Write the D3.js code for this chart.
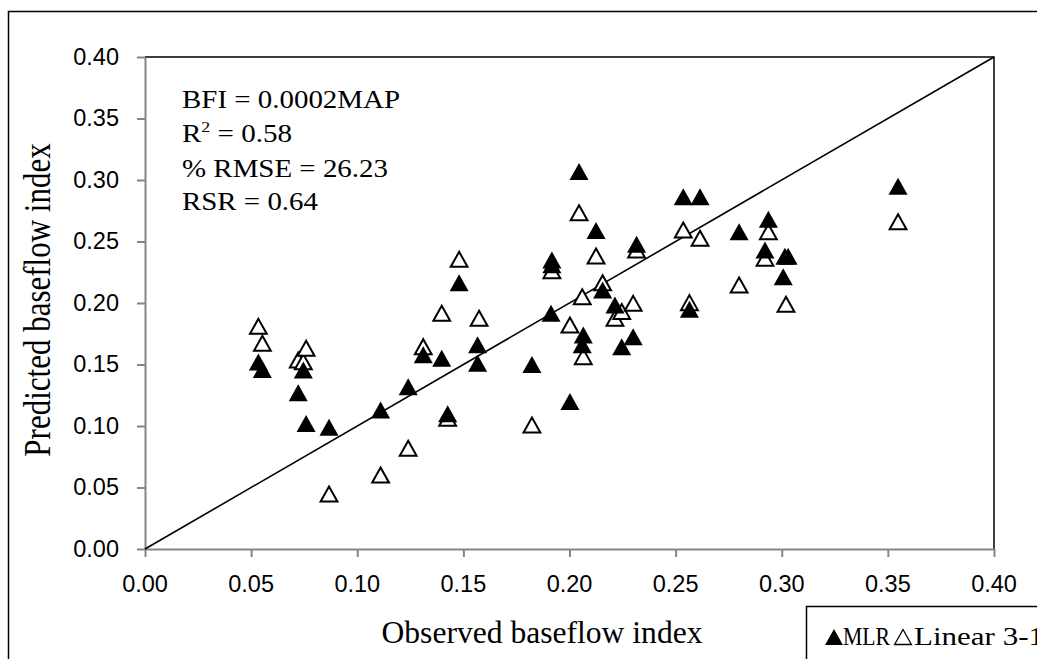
<!DOCTYPE html>
<html lang="en">
<head>
  <meta charset="UTF-8">
  <title>Observed vs predicted baseflow index</title>
  <style>
    body { margin: 0; background: #fff; }
    svg { display: block; }
  </style>
</head>
<body>
  <svg></svg>
  <script src="https://cdn.jsdelivr.net/npm/d3@7"></script>
  <script>
    // MLR series (filled triangles)
    var mlrObserved = [0.0534, 0.0553, 0.0722, 0.0746, 0.0759, 0.0867, 0.111, 0.124, 0.1311, 0.1398,
      0.1426, 0.148, 0.1567, 0.1567, 0.1823, 0.1913, 0.1917, 0.1917, 0.2002, 0.2045,
      0.2065, 0.206, 0.2125, 0.2156, 0.2214, 0.2246, 0.230, 0.2316, 0.2536, 0.2615,
      0.2565, 0.2799, 0.2921, 0.2937, 0.3007, 0.3015, 0.303, 0.3548]
    var mlrPredicted = [0.152, 0.146, 0.127, 0.1455, 0.102, 0.099, 0.113, 0.132, 0.158, 0.155,
      0.110, 0.2165, 0.166, 0.151, 0.150, 0.1916, 0.235, 0.231, 0.120, 0.307,
      0.174, 0.166, 0.259, 0.2106, 0.1984, 0.1645, 0.1726, 0.2477, 0.2864, 0.2864,
      0.195, 0.258, 0.243, 0.268, 0.2214, 0.238, 0.238, 0.295]

    // Linear 3-parameter series (open triangles)
    var linObserved = [0.0534, 0.0553, 0.0722, 0.0746, 0.0759, 0.0867, 0.111, 0.124, 0.1311, 0.1398,
      0.1426, 0.148, 0.1574, 0.1823, 0.1917, 0.2002, 0.2045, 0.206, 0.2065, 0.2125,
      0.2156, 0.2214, 0.2246, 0.230, 0.2316, 0.2536, 0.2615, 0.2565, 0.2799, 0.2921,
      0.2937, 0.302, 0.3548]
    var linPredicted = [0.181, 0.1672, 0.1537, 0.1523, 0.1632, 0.0447, 0.0602, 0.0819, 0.1645, 0.1916,
      0.1063, 0.2355, 0.1876, 0.1008, 0.2263, 0.1821, 0.2734, 0.2051, 0.1564, 0.2382,
      0.2165, 0.1876, 0.193, 0.1997, 0.243, 0.2593, 0.2526, 0.2003, 0.2146, 0.2363,
      0.258, 0.199, 0.266]

    var ticks = [0, 0.05, 0.10, 0.15, 0.20, 0.25, 0.30, 0.35, 0.40]
    var statLines = ["BFI = 0.0002MAP", "R", "% RMSE = 26.23", "RSR = 0.64"]
    var legendNames = ["MLR", "Linear 3-1"]

    var width = 1037
    var height = 659
    var plotL = 145, plotR = 994, plotT = 57, plotB = 549
    var gray = "#868686"

    var x = d3.scaleLinear().domain([0, 0.4]).range([plotL, plotR])
    var y = d3.scaleLinear().domain([0, 0.4]).range([plotB, plotT])

    var svg = d3.select("svg")
      .attr("width", width)
      .attr("height", height)

    // triangle marker, size = height squared
    var tri = {
      draw: function (ctx, size) {
        var h = Math.sqrt(size)
        ctx.moveTo(0, -h / 2)
        ctx.lineTo(h * 0.56, h / 2)
        ctx.lineTo(-h * 0.56, h / 2)
        ctx.closePath()
      }
    }

    // text helper; sx stretches horizontally (screen space), len forces a width
    function label(g, px, py, str, size, family, opts) {
      opts = opts || {}
      var tf = "translate(" + px + "," + py + ")"
      if (opts.sx) tf += " scale(" + opts.sx + ",1)"
      if (opts.rot) tf += " rotate(" + opts.rot + ")"
      var t = g.append("text")
        .attr("transform", tf)
        .attr("text-anchor", opts.anchor || "start")
        .attr("font-family", family)
        .attr("font-size", size)
        .attr("fill", "#000")
        .text(str)
      if (opts.len) t.attr("textLength", opts.len).attr("lengthAdjust", "spacingAndGlyphs")
      return t
    }

    // outer chart border
    svg.append("rect")
      .attr("x", 8.5).attr("y", 11.5)
      .attr("width", 1100).attr("height", 700)
      .attr("fill", "none").attr("stroke", "#000").attr("stroke-width", 1.5)

    // plot area top / right borders
    svg.append("path")
      .attr("d", "M" + plotL + "," + plotT + "H" + plotR + "V" + plotB)
      .attr("fill", "none").attr("stroke", "#000").attr("stroke-width", 1.5)

    // axes
    var xAxis = svg.append("g")
      .attr("transform", "translate(0," + plotB + ")")
      .call(d3.axisBottom(x).tickValues(ticks).tickSize(8).tickSizeOuter(0).tickFormat(""))
    var yAxis = svg.append("g")
      .attr("transform", "translate(" + plotL + ",0)")
      .call(d3.axisLeft(y).tickValues(ticks).tickSize(8).tickSizeOuter(0).tickFormat(""))
    svg.selectAll(".domain, .tick line")
      .attr("stroke", gray).attr("stroke-width", 2)

    var tickFont = "'Liberation Sans', Arial, sans-serif"
    ticks.forEach(function (t) {
      label(svg, x(t), 592, t.toFixed(2), 23.5, tickFont, { anchor: "middle" })
      label(svg, 119, y(t) + 7.5, t.toFixed(2), 23.5, tickFont, { anchor: "end" })
    })

    var serif = "'Liberation Serif', 'Times New Roman', serif"

    // 1:1 line
    svg.append("line")
      .attr("x1", x(0)).attr("y1", y(0))
      .attr("x2", x(0.4)).attr("y2", y(0.4))
      .attr("stroke", "#000").attr("stroke-width", 1.6)

    // open triangles first, filled ones on top
    var linPts = linObserved.map(function (v, i) { return [v, linPredicted[i]] })
    var mlrPts = mlrObserved.map(function (v, i) { return [v, mlrPredicted[i]] })

    svg.append("g").selectAll("path")
      .data(linPts)
      .join("path")
      .attr("d", d3.symbol().type(tri).size(15 * 15))
      .attr("transform", function (d) { return "translate(" + x(d[0]) + "," + y(d[1]) + ")" })
      .attr("fill", "#fff")
      .attr("stroke", "#000")
      .attr("stroke-width", 2)

    svg.append("g").selectAll("path")
      .data(mlrPts)
      .join("path")
      .attr("d", d3.symbol().type(tri).size(17 * 17))
      .attr("transform", function (d) { return "translate(" + x(d[0]) + "," + y(d[1]) + ")" })
      .attr("fill", "#000")

    // stats text
    var statY = [108, 142, 177, 210]
    var statLen = [218, 110, 206, 136]
    statLines.forEach(function (s, i) {
      var t = label(svg, 182, statY[i], s, 24.5, serif, { len: statLen[i] })
      if (s === "R") {
        t.append("tspan").attr("dy", -10).attr("font-size", 15).text("2")
        t.append("tspan").attr("dy", 10).text(" = 0.58")
      }
    })

    // axis titles
    label(svg, 542, 643, "Observed baseflow index", 31, serif, { anchor: "middle", len: 321 })
    label(svg, 50, 300, "Predicted baseflow index", 31, serif, { anchor: "middle", rot: -90, sx: 1.2 })

    // legend box, running off the picture edge
    svg.append("rect")
      .attr("x", 806.5).attr("y", 606.5)
      .attr("width", 300).attr("height", 100)
      .attr("fill", "#fff").attr("stroke", "#000").attr("stroke-width", 1.5)
    svg.append("path")
      .attr("d", d3.symbol().type(tri).size(16 * 16))
      .attr("transform", "translate(834,637)")
      .attr("fill", "#000")
    label(svg, 843, 645, legendNames[0], 25, serif, { len: 47 })
    svg.append("path")
      .attr("d", d3.symbol().type(tri).size(15 * 15))
      .attr("transform", "translate(903,637)")
      .attr("fill", "#fff").attr("stroke", "#000").attr("stroke-width", 1.3)
    label(svg, 914, 645, legendNames[1], 25, serif, { len: 130 })
  </script>
</body>
</html>
